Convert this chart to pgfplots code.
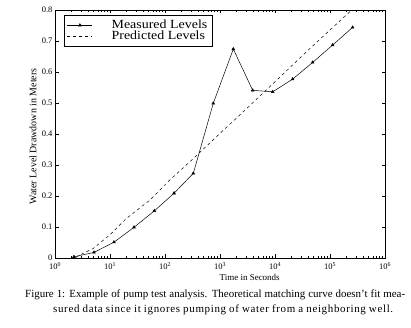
\documentclass[border=0pt]{standalone}
\usepackage{fontspec}
\setmainfont{Liberation Serif}
\newfontfamily\legfont[FakeStretch=1.12]{Liberation Serif}
\newfontfamily\capwide[LetterSpace=6]{Liberation Serif}
\usepackage{pgfplots}
\pgfplotsset{compat=1.18}
\begin{document}
\begin{tikzpicture}
\useasboundingbox (0,0) rectangle (411bp,328bp);
\begin{axis}[
  at={(55bp,70bp)}, anchor=south west,
  scale only axis, width=330bp, height=248bp,
  xmode=log, xmin=1, xmax=1e6, ymin=0, ymax=0.8,
  xtick={1,10,100,1000,10000,100000,1000000},
  xticklabels={10\textsuperscript{0},10\textsuperscript{1},10\textsuperscript{2},10\textsuperscript{3},10\textsuperscript{4},10\textsuperscript{5},10\textsuperscript{6}},
  ytick={0,0.1,0.2,0.3,0.4,0.5,0.6,0.7,0.8},
  yticklabels={0,0.1,0.2,0.3,0.4,0.5,0.6,0.7,0.8},
  tick align=inside,
  major tick length=3.5bp, minor tick length=2bp,
  axis line style={line width=0.6pt},
  every tick/.style={line width=0.5pt, black},
  tick label style={font=\fontsize{8.5}{9}\selectfont},
  yticklabel style={xshift=1bp},
  xticklabel style={yshift=-1bp},
  xlabel={Time in Seconds},
  ylabel={Water Level Drawdown in Meters},
  xlabel style={font=\fontsize{9}{10}\selectfont, at={(axis description cs:0.59,-0.077)}, anchor=center},
  ylabel style={font=\fontsize{10}{11}\selectfont, at={(axis description cs:-0.067,0.49)}, anchor=center},
  legend style={at={(0.027,0.98)}, anchor=north west, draw=black, line width=0.5pt,
    font=\legfont\fontsize{12.5}{12}\selectfont, inner xsep=3bp, inner ysep=3bp, row sep=-3bp,
    /tikz/every odd column/.append style={column sep=17bp}},
  legend cell align=left,
  legend image code/.code={\draw[mark repeat=2,mark phase=2,#1] plot coordinates {(0bp,0bp) (12.5bp,0bp) (25bp,0bp)};},
  clip=true,
]
\addplot[black, line width=0.5pt, mark=triangle*, mark size=1.6pt, mark options={solid}] coordinates {
 (2.21,0.004) (5.12,0.018) (11.8,0.051) (27.3,0.099) (64.0,0.152) (146,0.209) (327,0.273)
 (755,0.499) (1746,0.674) (3926,0.541) (9078,0.536) (20940,0.577) (48420,0.631)
 (111700,0.687) (258200,0.744)
};
\addlegendentry{Measured Levels}
\addplot[black, line width=0.5pt, dash pattern=on 3bp off 3bp] coordinates {
 (2.4,0.002) (2.85,0.010) (4.98,0.031) (10,0.075) (20,0.128) (53.3,0.187) (123,0.252) (285,0.311)
 (1072,0.407) (2851,0.477) (8110,0.553) (43250,0.676) (231200,0.795) (400000,0.835)
};
\addlegendentry{Predicted Levels}
\end{axis}
\node[anchor=base west, font=\fontsize{11}{12}\selectfont, inner sep=0pt] at (25bp,31bp) {\hbox to 380bp{Figure 1: Example of pump test analysis. Theoretical matching curve doesn't fit mea-}};
\node[anchor=base west, font=\capwide\fontsize{11}{12}\selectfont, inner sep=0pt] at (53bp,16bp) {\hbox to 340bp{sured data since it ignores pumping of water from a neighboring well.}};
\end{tikzpicture}
\end{document}
